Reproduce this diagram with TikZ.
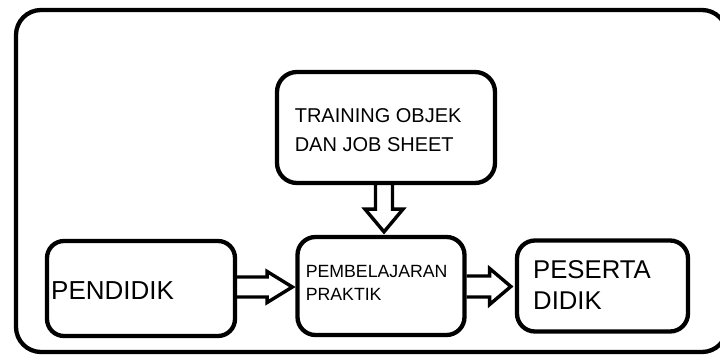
\documentclass[tikz,border=0pt]{standalone}
\usepackage{fontspec}
\setmainfont{Liberation Sans}
\usetikzlibrary{calc}
\begin{document}
\begin{tikzpicture}[x=1pt,y=-1pt,
  box/.style={draw=black, line width=4.3pt, inner sep=0pt},
  blockarrow/.style={draw=black, line width=3.4pt, line join=miter},
  lbl/.style={anchor=north west, inner sep=0pt, align=left, text=black}]
\useasboundingbox (0,0) rectangle (720,358);

% outer frame (its right side runs past the page edge)
\node[box, rounded corners=25pt, minimum width=711, minimum height=342] (frame) at (371.5,181) {};

% blocks
\node[box, rounded corners=20pt, minimum width=218, minimum height=111] (train) at (386,127.5) {};
\node[box, rounded corners=18pt, minimum width=167, minimum height=98] (pemb) at (381,286) {};
\node[box, rounded corners=17pt, minimum width=188, minimum height=95] (pend) at (141,288.5) {};
\node[box, rounded corners=18pt, minimum width=171, minimum height=91] (pes) at (602.5,286) {};

% texts
\node[lbl, font=\fontsize{20}{29}\selectfont] (ttrain) at (294.6,108) {TRAINING OBJEK\\DAN JOB SHEET};
\node[lbl, font=\fontsize{17.7}{23}\selectfont] (tpemb) at (305.6,265) {PEMBELAJARAN\\PRAKTIK};
\node[lbl, font=\fontsize{26}{31}\selectfont] (tpend) at (51,281) {PENDIDIK};
\node[lbl, font=\fontsize{25.7}{31}\selectfont] (tpes) at (533,260) {PESERTA\\DIDIK};

% block arrows
\coordinate (yl) at (0,287);
\coordinate (yr) at (0,286.5);
\coordinate (xd) at (384,0);

% PENDIDIK -> PEMBELAJARAN
\draw[blockarrow]
  ($(pend.east |- yl)+(0,-10)$) -- ($(pend.east |- yl)+(30,-10)$)
  -- ($(pend.east |- yl)+(30,-15.5)$) -- ($(pemb.west |- yl)+(-3,0)$)
  -- ($(pend.east |- yl)+(30,15.5)$) -- ($(pend.east |- yl)+(30,10)$)
  -- ($(pend.east |- yl)+(0,10)$);

% PEMBELAJARAN -> PESERTA DIDIK
\draw[blockarrow]
  ($(pemb.east |- yr)+(0,-10.5)$) -- ($(pemb.east |- yr)+(23,-10.5)$)
  -- ($(pemb.east |- yr)+(23,-18)$) -- ($(pes.west |- yr)+(-4,0)$)
  -- ($(pemb.east |- yr)+(23,18)$) -- ($(pemb.east |- yr)+(23,10.5)$)
  -- ($(pemb.east |- yr)+(0,10.5)$);

% TRAINING -> PEMBELAJARAN
\draw[blockarrow]
  ($(train.south -| xd)+(-8.5,0)$) -- ($(train.south -| xd)+(-8.5,24)$)
  -- ($(train.south -| xd)+(-19,24)$) -- ($(pemb.north -| xd)+(0,-3)$)
  -- ($(train.south -| xd)+(19,24)$) -- ($(train.south -| xd)+(8.5,24)$)
  -- ($(train.south -| xd)+(8.5,0)$);
\end{tikzpicture}
\end{document}
